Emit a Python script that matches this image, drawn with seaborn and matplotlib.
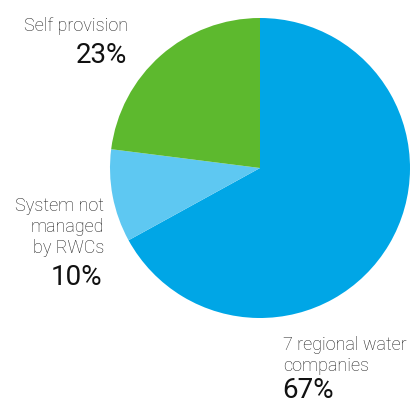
import matplotlib
matplotlib.use("Agg")
import matplotlib.pyplot as plt
import seaborn as sns

categories = ["7 regional water\ncompanies", "System not\nmanaged\nby RWCs", "Self provision"]
values = [67, 10, 23]
pct_labels = ["67%", "10%", "23%"]
colors = ["#00A6E6", "#5EC8F2", "#5DB92E"]

sns.set_theme(style="white")
plt.rcParams['font.family'] = ['Roboto', 'DejaVu Sans']

W, H = 411, 403
fig = plt.figure(figsize=(W / 100, H / 100), dpi=100)
ax = fig.add_axes([0, 0, 1, 1])

cx, cy, r = 260, H - 168, 150
ax.pie(values, colors=sns.color_palette(colors), startangle=90, counterclock=False,
       center=(cx, cy), radius=r, wedgeprops=dict(linewidth=0), frame=True)
ax.set_xlim(0, W)
ax.set_ylim(0, H)
ax.set_aspect('equal')
ax.axis('off')

lab_kw = dict(fontsize=13, color="#1e1e1e", fontweight='light', linespacing=1.2)
pct_kw = dict(fontsize=20, color="#111111")

# label placements (pixel coordinates, y from top); multiline baseline = last line
ax.text(128, H - 31, categories[2], ha='right', va='baseline', **lab_kw)
ax.text(127, H - 63, pct_labels[2], ha='right', va='baseline', **pct_kw)

ax.text(104, H - 253, categories[1], ha='right', va='baseline', multialignment='right', **lab_kw)
ax.text(102, H - 285, pct_labels[1], ha='right', va='baseline', **pct_kw)

ax.text(283, H - 371, categories[0], ha='left', va='baseline', multialignment='left', **lab_kw)
ax.text(282, H - 398, pct_labels[0], ha='left', va='baseline', **pct_kw)

fig.savefig("out.png", dpi=100)
